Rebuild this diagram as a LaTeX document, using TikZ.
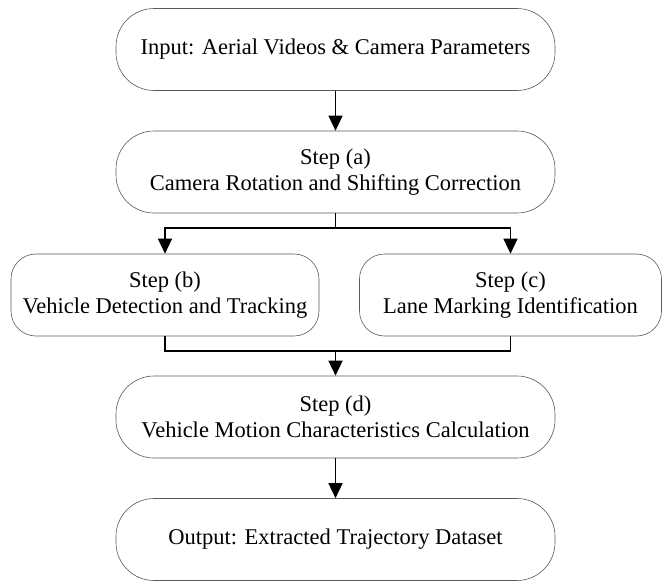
\documentclass[tikz,border=0pt]{standalone}
\usepackage{fontspec}
\setmainfont{Liberation Serif}
\usetikzlibrary{arrows.meta}
\begin{document}
\begin{tikzpicture}[x=1pt,y=-1pt,
  wide/.style={draw=black!65, line width=0.6pt, rounded corners=38pt, minimum width=439pt, minimum height=82pt, inner sep=0pt, align=center, font=\fontsize{22.5}{26}\selectfont},
  side/.style={draw=black!65, line width=0.6pt, rounded corners=25pt, minimum height=82pt, inner sep=0pt, align=center, font=\fontsize{22.5}{26}\selectfont},
  conn/.style={line width=1.4pt, black},
  arr/.style={conn, -{Triangle[length=15pt,width=14pt]}}]
\useasboundingbox (0,0) rectangle (662,581);
\node[wide] (in) at (335.5,49.5) {Input: Aerial Videos \& Camera Parameters};
\node[wide] (a) at (335.5,172) {Step (a)\\Camera Rotation and Shifting Correction};
\node[side, minimum width=308pt] (b) at (165,295) {Step (b)\\Vehicle Detection and Tracking};
\node[side, minimum width=302pt] (c) at (510.5,295) {Step (c)\\Lane Marking Identification};
\node[wide] (d) at (335.5,417) {Step (d)\\Vehicle Motion Characteristics Calculation};
\node[wide] (out) at (335.5,539.5) {Output: Extracted Trajectory Dataset};
\coordinate (j1) at (335.5,228);
\coordinate (j2) at (335.5,351);
\draw[arr] (in.south) -- (a.north);
\draw[conn] (a.south) -- (j1);
\draw[arr] (j1) -| (b.north);
\draw[arr] (j1) -| (c.north);
\draw[conn] (b.south) |- (j2);
\draw[conn] (c.south) |- (j2);
\draw[arr] (j2) -- (d.north);
\draw[arr] (d.south) -- (out.north);
\end{tikzpicture}
\end{document}
